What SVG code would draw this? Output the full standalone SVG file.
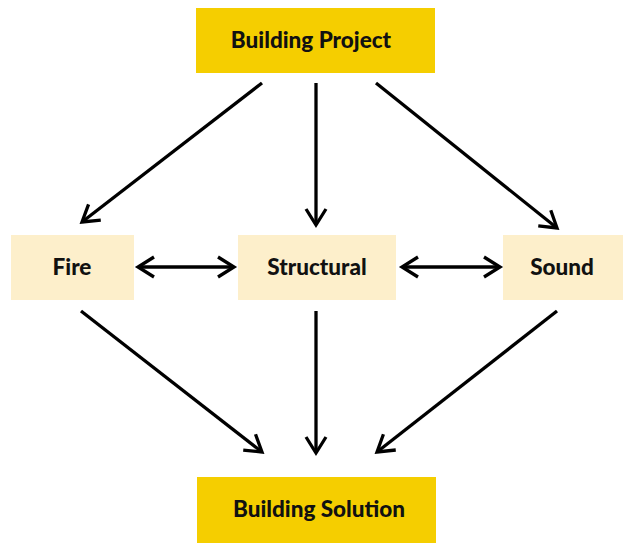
<svg xmlns="http://www.w3.org/2000/svg" width="623" height="543" viewBox="0 0 623 543">
<style>
.dark{fill:#F5CE00}
.light{fill:#FDEFCB}
text{font-family:Lato,"Open Sans","Liberation Sans",sans-serif;font-weight:900;font-size:22.5px;fill:#111;text-anchor:middle;dominant-baseline:central}
.c{stroke:#000;stroke-width:3.3;fill:none}
</style>
<defs>
<marker id="ah" viewBox="0 0 24 24" refX="19" refY="12" markerWidth="24" markerHeight="24" markerUnits="userSpaceOnUse" orient="auto-start-reverse">
<path d="M3,2 L19,12 L3,22" fill="none" stroke="#000" stroke-width="3.3"/>
</marker>
</defs>
<rect width="623" height="543" fill="#fff"/>
<g id="connectors">
<line class="c" x1="262" y1="83" x2="82" y2="222" marker-end="url(#ah)"/>
<line class="c" x1="316" y1="83" x2="316" y2="225" marker-end="url(#ah)"/>
<line class="c" x1="376" y1="83" x2="557" y2="228" marker-end="url(#ah)"/>
<line class="c" x1="138" y1="267" x2="234" y2="267" marker-start="url(#ah)" marker-end="url(#ah)"/>
<line class="c" x1="402" y1="267" x2="500" y2="267" marker-start="url(#ah)" marker-end="url(#ah)"/>
<line class="c" x1="81" y1="311" x2="262" y2="452" marker-end="url(#ah)"/>
<line class="c" x1="316" y1="311" x2="316" y2="453" marker-end="url(#ah)"/>
<line class="c" x1="557" y1="311" x2="377" y2="452" marker-end="url(#ah)"/>
</g>
<g id="project"><rect class="dark" x="196" y="8" width="239" height="65"/><text x="311" y="39">Building Project</text></g>
<g id="fire"><rect class="light" x="11" y="235" width="123" height="65"/><text x="72" y="266">Fire</text></g>
<g id="structural"><rect class="light" x="238" y="235" width="158" height="65"/><text x="317" y="266">Structural</text></g>
<g id="sound"><rect class="light" x="503" y="235" width="120" height="65"/><text x="562" y="266">Sound</text></g>
<g id="solution"><rect class="dark" x="197" y="477" width="239" height="66"/><text x="319" y="508">Building Solution</text></g>
</svg>
